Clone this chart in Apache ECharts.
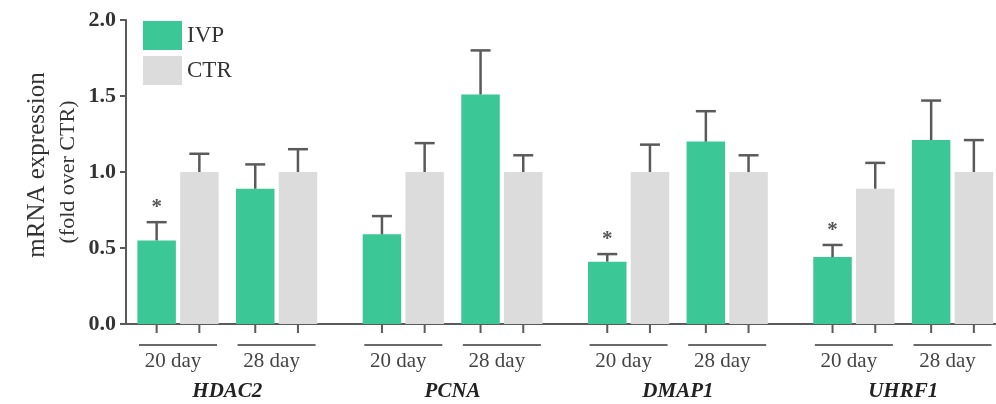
<!DOCTYPE html>
<html><head><meta charset="utf-8">
<script src="https://cdn.jsdelivr.net/npm/echarts@6/dist/echarts.min.js"></script>
<style>html,body{margin:0;padding:0;background:#fff}#c{width:996px;height:404px}</style>
</head><body><div id="c"></div>
<script>
var genes = ['HDAC2', 'PCNA', 'DMAP1', 'UHRF1'];
var days = ['20 day', '28 day'];
// order: gene0-20d, gene0-28d, gene1-20d, ...
var ivpMean = [0.55, 0.89, 0.59, 1.51, 0.41, 1.20, 0.44, 1.21];
var ivpErr  = [0.12, 0.16, 0.12, 0.29, 0.05, 0.20, 0.08, 0.26];
var ctrMean = [1.00, 1.00, 1.00, 1.00, 1.00, 1.00, 0.89, 1.00];
var ctrErr  = [0.12, 0.15, 0.19, 0.11, 0.18, 0.11, 0.17, 0.21];
var ivpStar = [1, 0, 0, 0, 1, 0, 1, 0];
var yTicks = [0, 0.5, 1.0, 1.5, 2.0];

var GREEN = '#3cc797', GRAY = '#dcdcdc', AX = '#5a5a5a';
var FONT = "'Liberation Serif','Times New Roman',serif";
var BARW = 38.5, GAP = 4.2;
var TOP = 20, H = 304, W = 996, GW = 197.2;

var grids = [{left: 126, right: 0, top: TOP, height: H, outerBoundsMode: 'none', containLabel: false}];
var xAxes = [{gridIndex: 0, type: 'value', min: 0, max: 1, axisLine: {show: true, lineStyle: {color: AX, width: 2}},
  axisTick: {show: false}, axisLabel: {show: false}, splitLine: {show: false}}];
var yAxes = [{gridIndex: 0, type: 'value', min: yTicks[0], max: yTicks[yTicks.length - 1], interval: 0.5,
  axisLine: {show: true, lineStyle: {color: AX, width: 2}},
  axisTick: {show: true, length: 6, lineStyle: {color: AX, width: 2}},
  axisLabel: {margin: 10, color: '#333', fontFamily: FONT, fontWeight: 'bold', fontSize: 22,
    formatter: function (v) { return v.toFixed(1); }},
  splitLine: {show: false},
  name: '{a|mRNA expression}\n{b|(fold over CTR)}', nameLocation: 'middle', nameGap: 42, nameMoveOverlap: false,
  nameTextStyle: {color: '#333', fontFamily: FONT, lineHeight: 31,
    rich: {a: {fontSize: 25, fontFamily: FONT, color: '#333', lineHeight: 31, padding: [0, 0, 0, 14]},
           b: {fontSize: 22, fontFamily: FONT, color: '#333', lineHeight: 31}}}
}];
var series = [];

function errRender(params, api) {
  var cat = api.value(0), val = api.value(1), err = api.value(2), side = api.value(3), star = api.value(4);
  var c = api.coord([cat, 0]);
  var off = (side === 0 ? -1 : 1) * (BARW + GAP) / 2;
  var x = c[0] + off, y0 = c[1];
  var yv = api.coord([cat, val])[1], ye = api.coord([cat, val + err])[1];
  var st = {stroke: AX, lineWidth: 2.5};
  var ch = [
    {type: 'line', shape: {x1: x, y1: yv, x2: x, y2: ye}, style: st},
    {type: 'line', shape: {x1: x - 10, y1: ye, x2: x + 10, y2: ye}, style: st},
    {type: 'line', shape: {x1: x, y1: y0, x2: x, y2: y0 + 9}, style: {stroke: AX, lineWidth: 2}}
  ];
  if (side === 0) {
    ch.push({type: 'line', shape: {x1: c[0] - 39, y1: y0 + 21, x2: c[0] + 39, y2: y0 + 21}, style: {stroke: '#6a6a6a', lineWidth: 2.2}});
  }
  if (star) {
    ch.push({type: 'text', style: {text: '*', x: x, y: ye - 4, align: 'center', verticalAlign: 'bottom',
      fontSize: 21, fontWeight: 'bold', fontFamily: FONT, fill: '#555'}});
  }
  return {type: 'group', children: ch};
}

genes.forEach(function (g, k) {
  var gi = k + 1;
  var left = 128.7 + k * 225.3;
  grids.push({left: left, width: GW, top: TOP, height: H, outerBoundsMode: 'none', containLabel: false});
  xAxes.push({gridIndex: gi, type: 'category', data: days,
    axisLine: {show: false}, axisTick: {show: false},
    axisLabel: {margin: 27, color: '#444', fontFamily: FONT, fontSize: 21, padding: [0, 10, 0, 0]},
    name: g, nameLocation: 'middle', nameGap: 57,
    nameTextStyle: {color: '#222', fontFamily: FONT, fontSize: 21, fontWeight: 'bold', fontStyle: 'italic'}});
  yAxes.push({gridIndex: gi, type: 'value', min: 0, max: 2, interval: 0.5, show: false});
  var iv = [], ct = [], er = [];
  days.forEach(function (d, j) {
    var idx = k * days.length + j;
    iv.push(ivpMean[idx]);
    ct.push(ctrMean[idx]);
    er.push([j, ivpMean[idx], ivpErr[idx], 0, ivpStar[idx]]);
    er.push([j, ctrMean[idx], ctrErr[idx], 1, 0]);
  });
  series.push({name: 'IVP', type: 'bar', xAxisIndex: gi, yAxisIndex: gi, data: iv, barWidth: BARW, barGap: '11%',
    itemStyle: {color: GREEN}, silent: true, animation: false});
  series.push({name: 'CTR', type: 'bar', xAxisIndex: gi, yAxisIndex: gi, data: ct, barWidth: BARW, barGap: '11%',
    itemStyle: {color: GRAY}, silent: true, animation: false});
  series.push({name: 'err' + k, type: 'custom', xAxisIndex: gi, yAxisIndex: gi, data: er, renderItem: errRender,
    clip: false, z: 5, silent: true, animation: false});
});

var chart = echarts.init(document.getElementById('c'), null, {renderer: 'canvas'});
chart.setOption({
  animation: false,
  backgroundColor: '#fff',
  grid: grids, xAxis: xAxes, yAxis: yAxes, series: series,
  legend: {data: ['IVP', 'CTR'], orient: 'vertical', left: 138, top: 16, itemWidth: 39, itemHeight: 29, itemGap: 6,
    icon: 'rect', selectedMode: false, textStyle: {fontFamily: FONT, fontSize: 23, color: '#333'}}
});
</script></body></html>
